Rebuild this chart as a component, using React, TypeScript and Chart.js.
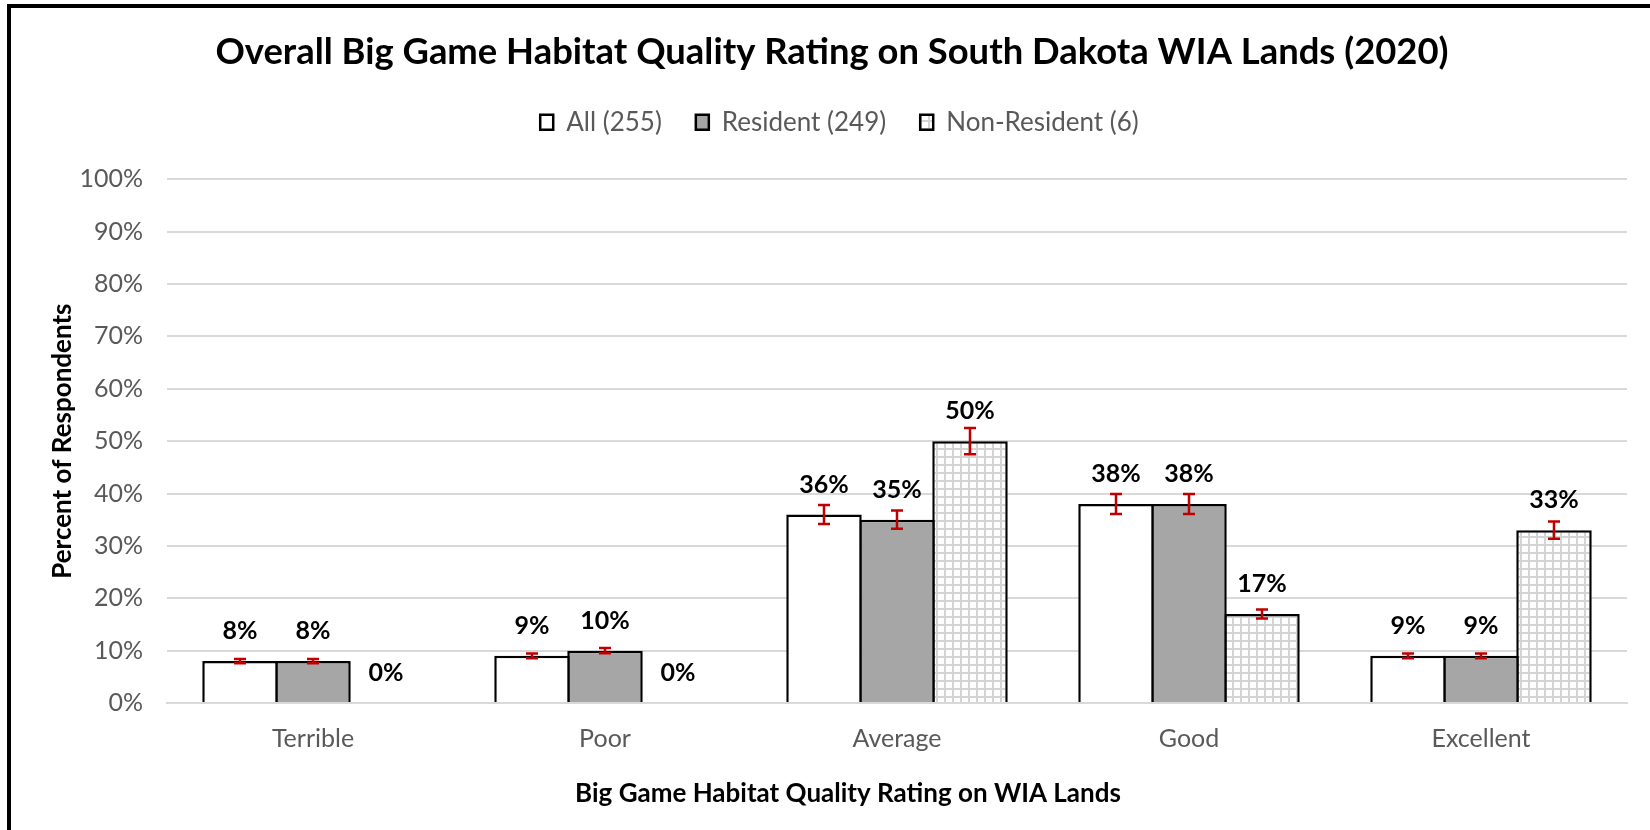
import { useEffect, useRef } from 'react';
import { Chart, registerables } from 'chart.js';

Chart.register(...registerables);

// Rating categories and the three respondent groups
const categories = ['Terrible', 'Poor', 'Average', 'Good', 'Excellent'];
const seriesNames = ['All (255)', 'Resident (249)', 'Non-Resident (6)'];

// Percent of respondents per rating
const allPct = [8, 9, 36, 38, 9];
const residentPct = [8, 10, 35, 38, 9];
const nonResidentPct = [0, 0, 50, 17, 33];

// Error bar half-widths (percentage points)
const allErr = [0.4, 0.45, 1.8, 1.9, 0.45];
const residentErr = [0.4, 0.5, 1.75, 1.9, 0.45];
const nonResidentErr = [0, 0, 2.5, 0.85, 1.65];

const titleText = 'Overall Big Game Habitat Quality Rating on South Dakota WIA Lands (2020)';
const xTitleText = 'Big Game Habitat Quality Rating on WIA Lands';
const yTitleText = 'Percent of Respondents';

const FONT = 'Lato';

export default function App() {
  const ref = useRef<HTMLCanvasElement>(null);

  useEffect(() => {
    const canvas = ref.current;
    if (!canvas) return;

    // small grid hatch for the Non-Resident bars
    const tile = document.createElement('canvas');
    tile.width = 8;
    tile.height = 8;
    const t = tile.getContext('2d')!;
    t.fillStyle = '#ffffff';
    t.fillRect(0, 0, 8, 8);
    t.fillStyle = '#d4d4d4';
    t.fillRect(0, 0, 8, 2);
    t.fillRect(0, 0, 2, 8);
    const gridFill = canvas.getContext('2d')!.createPattern(tile, 'repeat')!;

    const errors = [allErr, residentErr, nonResidentErr];

    // extra space below the legend, and a small nudge to the right
    const legendSpacing = {
      id: 'legendSpacing',
      beforeInit(chart: any) {
        const legend = chart.legend;
        if (!legend) return;
        const fit = legend.fit;
        legend.fit = function () {
          fit.call(this);
          this.height += 34;
        };
      },
      afterLayout(chart: any) {
        if (chart.legend) chart.legend.left += 15;
      },
    };

    // category axis title, centred on the whole chart rather than the plot area
    const xAxisTitle = {
      id: 'xAxisTitle',
      afterDraw(chart: any) {
        const { ctx } = chart;
        ctx.save();
        ctx.font = `bold 26px ${FONT}`;
        ctx.fillStyle = '#000000';
        ctx.textAlign = 'center';
        ctx.textBaseline = 'middle';
        ctx.fillText(xTitleText, 848, 794);
        ctx.restore();
      },
    };

    const errorBars = {
      id: 'errorBars',
      afterDatasetsDraw(chart: any) {
        const { ctx } = chart;
        const y = chart.scales.y;
        ctx.save();
        ctx.strokeStyle = '#C00000';
        ctx.lineWidth = 2.5;
        chart.data.datasets.forEach((ds: any, d: number) => {
          const meta = chart.getDatasetMeta(d);
          meta.data.forEach((bar: any, i: number) => {
            const e = errors[d][i];
            if (!e) return;
            const v = ds.data[i];
            const yTop = y.getPixelForValue(v + e);
            const yBot = y.getPixelForValue(v - e);
            const x = bar.x;
            const cap = 6;
            ctx.beginPath();
            ctx.moveTo(x, yTop);
            ctx.lineTo(x, yBot);
            ctx.moveTo(x - cap, yTop);
            ctx.lineTo(x + cap, yTop);
            ctx.moveTo(x - cap, yBot);
            ctx.lineTo(x + cap, yBot);
            ctx.stroke();
          });
        });
        ctx.restore();
      },
    };

    const valueLabels = {
      id: 'valueLabels',
      afterDatasetsDraw(chart: any) {
        const { ctx } = chart;
        const y = chart.scales.y;
        ctx.save();
        ctx.font = `bold 25px ${FONT}`;
        ctx.fillStyle = '#000000';
        ctx.textAlign = 'center';
        ctx.textBaseline = 'middle';
        chart.data.datasets.forEach((ds: any, d: number) => {
          const meta = chart.getDatasetMeta(d);
          meta.data.forEach((bar: any, i: number) => {
            const v = ds.data[i];
            ctx.fillText(`${v}%`, bar.x, y.getPixelForValue(v) - 30);
          });
        });
        ctx.restore();
      },
    };

    const barCommon = {
      borderColor: '#000000',
      borderWidth: 2.5,
      barPercentage: 1.034,
      categoryPercentage: 0.75,
    };

    const chart = new Chart(canvas, {
      type: 'bar',
      data: {
        labels: categories,
        datasets: [
          { label: seriesNames[0], data: allPct, backgroundColor: '#ffffff', ...barCommon },
          { label: seriesNames[1], data: residentPct, backgroundColor: '#a6a6a6', ...barCommon },
          { label: seriesNames[2], data: nonResidentPct, backgroundColor: gridFill, ...barCommon },
        ],
      },
      options: {
        responsive: false,
        animation: false,
        devicePixelRatio: 1,
        layout: { padding: { left: 37, right: 23, top: 0, bottom: 0 } },
        plugins: {
          title: {
            display: true,
            text: titleText,
            color: '#000000',
            font: { family: FONT, size: 36.4, weight: 'bold', lineHeight: 1.2 },
            padding: { top: 30.6, bottom: 1 },
          },
          legend: {
            display: true,
            position: 'top',
            labels: {
              color: '#595959',
              font: { family: FONT, size: 26 },
              boxWidth: 13,
              boxHeight: 15,
              padding: 34,
            },
          },
          tooltip: { enabled: false },
        },
        scales: {
          x: {
            grid: { display: false, drawTicks: false },
            border: { display: true, color: '#d9d9d9', width: 2 },
            ticks: { color: '#595959', font: { family: FONT, size: 25 }, padding: 21 },
            afterFit(scale: any) {
              scale.height = 127;
            },
          },
          y: {
            min: 0,
            max: 100,
            grid: { color: '#d9d9d9', lineWidth: 2, drawTicks: false },
            border: { display: false },
            ticks: {
              stepSize: 10,
              color: '#595959',
              font: { family: FONT, size: 25 },
              padding: 24,
              callback: (v: any) => `${v}%`,
            },
            title: {
              display: true,
              text: yTitleText,
              color: '#000000',
              font: { family: FONT, size: 26, weight: 'bold', lineHeight: 1.2 },
              padding: { top: 10.4, bottom: 0 },
            },
            afterFit(scale: any) {
              scale.width = 130;
            },
          },
        },
      },
      plugins: [legendSpacing, errorBars, valueLabels, xAxisTitle],
    } as any);

    return () => chart.destroy();
  }, []);

  return (
    <div
      style={{
        position: 'absolute',
        left: 0,
        top: 0,
        width: 1650,
        height: 830,
        overflow: 'hidden',
        background: '#ffffff',
      }}
    >
      <canvas ref={ref} width={1650} height={830} style={{ display: 'block' }} />
      <div
        style={{
          position: 'absolute',
          left: 7,
          top: 4,
          width: 1643,
          height: 826,
          borderLeft: '4px solid #000000',
          borderTop: '4px solid #000000',
          boxSizing: 'border-box',
          pointerEvents: 'none',
        }}
      />
    </div>
  );
}
